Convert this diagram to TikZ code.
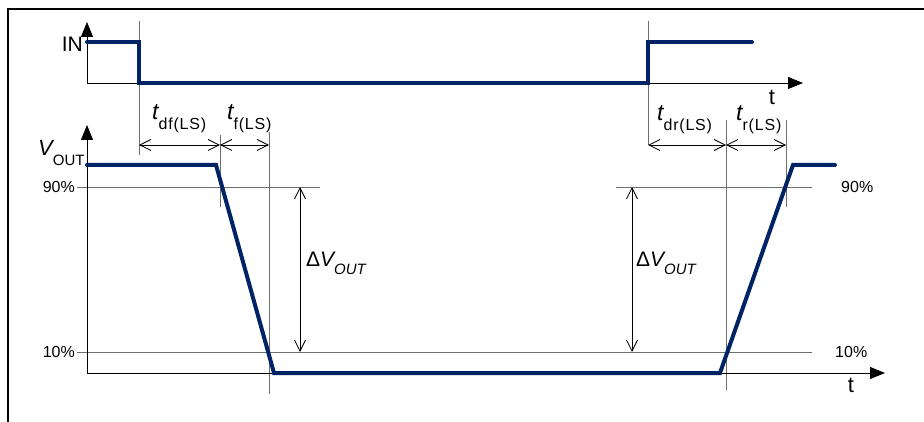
\documentclass[tikz,border=0pt]{standalone}
\usepackage{fontspec}
\setmainfont{Liberation Sans}
\usetikzlibrary{arrows.meta}
\definecolor{sig}{RGB}{0,35,102}
\definecolor{guidegray}{RGB}{110,110,110}
\newcommand\fs[1]{\fontsize{#1}{#1}\selectfont}
\newcommand\tlab[1]{{\fs{23}\itshape t}\raisebox{-10pt}{\fs{16}\addfontfeature{LetterSpace=5}#1}}
\begin{document}
\begin{tikzpicture}[x=1pt,y=-1pt,
  sigline/.style={sig,line width=4pt,line cap=round,line join=miter},
  axisline/.style={black,line width=0.9pt,-{Triangle[length=15pt,width=12pt]}},
  guide/.style={guidegray,line width=0.9pt},
  dimline/.style={black,line width=0.8pt,{Straight Barb[length=11pt,width=11pt]}-{Straight Barb[length=11pt,width=11pt]}},
  lbl/.style={inner sep=0pt}]
\useasboundingbox (0,0) rectangle (924,422);
% frame
\draw[line width=2.3pt] (8,422) -- (8,9) -- (924,9);
% key coordinates
\coordinate (o1) at (87,83);
\coordinate (o2) at (87,373);
\coordinate (y1) at (87,22);
\coordinate (x1) at (803,83);
\coordinate (y2) at (87,125);
\coordinate (x2) at (885,373);
% guides
\draw[guide] (77,187) -- (320,187);
\draw[guide] (616,187) -- (812,187);
\draw[guide] (77,352) -- (812,352);
\draw[guide] (139,21) -- (139,155);
\draw[guide] (648,21) -- (648,145);
\draw[guide] (220,135) -- (220,207);
\draw[guide] (269,132) -- (269,394);
\draw[guide] (726,120) -- (726,390);
\draw[guide] (786,120) -- (786,207);
% dimension lines
\coordinate (d1) at (139,145); \coordinate (d2) at (220,145); \coordinate (d3) at (269,145);
\coordinate (d4) at (648,145); \coordinate (d5) at (726,145); \coordinate (d6) at (786,145);
\draw[dimline] (d1) -- (d2);
\draw[dimline] (d2) -- (d3);
\draw[dimline] (d4) -- (d5);
\draw[dimline] (d5) -- (d6);
\coordinate (v1t) at (300,187); \coordinate (v1b) at (300,352);
\coordinate (v2t) at (632,187); \coordinate (v2b) at (632,352);
\draw[dimline] (v1t) -- (v1b);
\draw[dimline] (v2t) -- (v2b);
% axes
\draw[axisline] (o1) -- (y1);
\draw[axisline] (o1) -- (x1);
\draw[axisline] (o2) -- (y2);
\draw[axisline] (o2) -- (x2);
% signals
\draw[sigline] (87,42) -- (139,42) -- (139,83) -- (648,83) -- (648,42) -- (752,42);
\draw[sigline] (87,165) -- (216,165) -- (274,373) -- (720,373) -- (793,165) -- (835,165);
% labels
\node[lbl,anchor=east,font=\fs{21}] (inl) at (83,44) {IN};
\node[lbl,font=\fs{22}] (t1) at (772,97) {t};
\node[lbl,font=\fs{22}] (t2) at (851,385) {t};
\node[lbl,anchor=base west] (tdf) at (152,120) {\tlab{df(LS)}};
\node[lbl,anchor=base west] (tf) at (227,120) {\tlab{f(LS)}};
\node[lbl,anchor=base west] (tdr) at (657,121) {\tlab{dr(LS)}};
\node[lbl,anchor=base west] (tr) at (736,121) {\tlab{r(LS)}};
\node[lbl,anchor=base west] (vout) at (38,156) {{\fs{22}\itshape V}\raisebox{-10pt}{\fs{15}OUT}};
\node[lbl,anchor=east,font=\fs{16}] (p90l) at (75,187) {90\%};
\node[lbl,anchor=east,font=\fs{16}] (p10l) at (75,352) {10\%};
\node[lbl,anchor=west,font=\fs{16}] (p90r) at (841,187) {90\%};
\node[lbl,anchor=west,font=\fs{16}] (p10r) at (835,352) {10\%};
\node[lbl,anchor=base west] (dv1) at (306,267) {{\fs{21}Δ\itshape V}\raisebox{-8pt}{\fs{15}\itshape OUT}};
\node[lbl,anchor=base west] (dv2) at (636,267) {{\fs{21}Δ\itshape V}\raisebox{-8pt}{\fs{15}\itshape OUT}};
\end{tikzpicture}
\end{document}
